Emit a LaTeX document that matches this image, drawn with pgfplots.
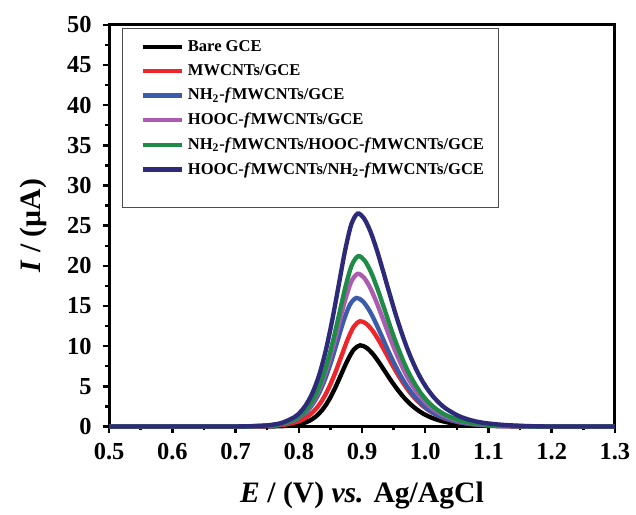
\documentclass[border=0pt]{standalone}
\usepackage{fontspec}
\setmainfont{Liberation Serif}
\usepackage{pgfplots}
\pgfplotsset{compat=1.18}

\definecolor{cBare}{RGB}{0,0,0}
\definecolor{cMW}{RGB}{236,38,42}
\definecolor{cNH}{RGB}{58,92,170}
\definecolor{cHO}{RGB}{172,92,176}
\definecolor{cNHHO}{RGB}{30,140,70}
\definecolor{cHONH}{RGB}{46,42,122}

\begin{document}
\begin{tikzpicture}
\begin{axis}[
    scale only axis,
    width=10.2cm,
    height=8.1cm,
    xmin=0.5, xmax=1.3,
    ymin=0, ymax=50,
    xtick={0.5,0.6,...,1.3},
    ytick={0,5,...,50},
    minor x tick num=1,
    minor y tick num=1,
    xtick pos=bottom,
    ytick pos=left,
    tick align=outside,
    major tick length=0.13cm,
    minor tick length=0.08cm,
    every tick/.style={black,line width=1.4pt},
    axis line style={line width=1.7pt},
    clip=false,
    /pgf/number format/assume math mode=true,
    ticklabel style={font=\bfseries\fontsize{14}{16}\selectfont},
    x tick label style={yshift=-0.08cm,/pgf/number format/.cd,fixed,fixed zerofill,precision=1},
    y tick label style={xshift=-0.1cm,/pgf/number format/.cd,fixed,precision=0},
    xlabel={\textbf{\textit{E} / (V) \textit{vs.} Ag/AgCl}},
    ylabel={\textbf{\textit{I} / (µA)}},
    label style={font=\fontsize{17}{19}\selectfont},
    xlabel style={yshift=-0.2cm},
    ylabel style={yshift=0.16cm},
    legend cell align=left,
    legend style={at={(0.025,0.993)},anchor=north west,
        draw=black!70,line width=0.5pt,
        font=\bfseries\fontsize{9.5}{11}\selectfont,
        inner xsep=6pt,inner ysep=5pt,
        row sep=2pt},
    legend image code/.code={\draw[#1,line width=2.5pt] (0.2cm,0cm) -- (1.0cm,0cm);},
    every axis plot/.append style={line width=2.5pt,smooth},
]
% Bare GCE
\addplot[cBare] coordinates {(0.5,0) (0.70,0) (0.737,0.003) (0.757,0.013) (0.777,0.056) (0.797,0.213) (0.807,0.399) (0.817,0.719) (0.827,1.242) (0.837,2.050) (0.847,3.202) (0.857,4.717) (0.867,6.474) (0.877,8.221) (0.887,9.575) (0.897,10.1) (0.907,9.807) (0.917,9.040) (0.927,7.969) (0.937,6.777) (0.947,5.595) (0.957,4.505) (0.967,3.545) (0.977,2.747) (0.987,2.101) (0.997,1.586) (1.007,1.192) (1.017,0.886) (1.027,0.657) (1.037,0.484) (1.057,0.262) (1.077,0.141) (1.097,0.077) (1.127,0.031) (1.167,0) (1.3,0)};
% MWCNTs/GCE
\addplot[cMW] coordinates {(0.5,0) (0.70,0) (0.737,0.031) (0.757,0.083) (0.777,0.221) (0.797,0.575) (0.807,0.913) (0.817,1.428) (0.827,2.188) (0.837,3.262) (0.847,4.729) (0.857,6.563) (0.867,8.672) (0.877,10.781) (0.887,12.432) (0.897,13.1) (0.907,12.773) (0.917,11.895) (0.927,10.650) (0.937,9.236) (0.947,7.781) (0.957,6.419) (0.967,5.188) (0.977,4.113) (0.987,3.236) (0.997,2.502) (1.007,1.926) (1.017,1.467) (1.027,1.117) (1.037,0.846) (1.057,0.479) (1.077,0.270) (1.097,0.152) (1.127,0.066) (1.167,0) (1.3,0)};
% NH2-fMWCNTs/GCE
\addplot[cNH] coordinates {(0.5,0) (0.69,0) (0.731,0.038) (0.751,0.101) (0.771,0.270) (0.791,0.702) (0.801,1.115) (0.811,1.744) (0.821,2.672) (0.831,3.984) (0.841,5.776) (0.851,8.016) (0.861,10.592) (0.871,13.168) (0.881,15.184) (0.891,16.0) (0.901,15.600) (0.911,14.528) (0.921,13.008) (0.931,11.280) (0.941,9.504) (0.951,7.840) (0.961,6.336) (0.971,5.024) (0.981,3.952) (0.991,3.056) (1.001,2.352) (1.011,1.792) (1.021,1.365) (1.031,1.034) (1.051,0.586) (1.071,0.330) (1.091,0.186) (1.121,0.080) (1.161,0.01) (1.2,0) (1.3,0)};
% HOOC-fMWCNTs/GCE
\addplot[cHO] coordinates {(0.5,0) (0.69,0) (0.733,0.046) (0.753,0.120) (0.773,0.321) (0.793,0.834) (0.803,1.324) (0.813,2.071) (0.823,3.173) (0.833,4.731) (0.843,6.859) (0.853,9.519) (0.863,12.578) (0.873,15.637) (0.883,18.031) (0.893,19.0) (0.903,18.525) (0.913,17.252) (0.923,15.447) (0.933,13.395) (0.943,11.286) (0.953,9.310) (0.963,7.524) (0.973,5.966) (0.983,4.693) (0.993,3.629) (1.003,2.793) (1.013,2.128) (1.023,1.621) (1.033,1.227) (1.053,0.695) (1.073,0.391) (1.093,0.220) (1.123,0.095) (1.163,0.02) (1.2,0) (1.3,0)};
% NH2-fMWCNTs/HOOC-fMWCNTs/GCE
\addplot[cNHHO] coordinates {(0.5,0) (0.69,0) (0.734,0.051) (0.754,0.134) (0.774,0.358) (0.794,0.931) (0.804,1.478) (0.814,2.311) (0.824,3.540) (0.834,5.279) (0.844,7.653) (0.854,10.621) (0.864,14.034) (0.874,17.448) (0.884,20.119) (0.894,21.2) (0.904,20.670) (0.914,19.250) (0.924,17.236) (0.934,14.946) (0.944,12.593) (0.954,10.388) (0.964,8.395) (0.974,6.657) (0.984,5.236) (0.994,4.049) (1.004,3.116) (1.014,2.374) (1.024,1.808) (1.034,1.370) (1.054,0.776) (1.074,0.437) (1.094,0.246) (1.124,0.106) (1.164,0.02) (1.2,0) (1.3,0)};
% HOOC-fMWCNTs/NH2-fMWCNTs/GCE
\addplot[cHONH] coordinates {(0.5,0) (0.69,0) (0.733,0.064) (0.753,0.167) (0.773,0.448) (0.793,1.163) (0.803,1.847) (0.813,2.889) (0.823,4.426) (0.833,6.599) (0.843,9.567) (0.853,13.277) (0.863,17.543) (0.873,21.810) (0.883,25.149) (0.893,26.5) (0.903,25.917) (0.913,24.327) (0.923,22.075) (0.933,19.425) (0.943,16.695) (0.953,14.019) (0.963,11.581) (0.973,9.408) (0.983,7.553) (0.993,5.989) (1.003,4.717) (1.013,3.684) (1.023,2.862) (1.033,2.207) (1.053,1.304) (1.073,0.766) (1.093,0.448) (1.123,0.201) (1.163,0.05) (1.2,0) (1.3,0)};
\addlegendentry{Bare GCE}
\addlegendentry{MWCNTs/GCE}
\addlegendentry{NH\textsubscript{2}-\textit{f}MWCNTs/GCE}
\addlegendentry{HOOC-\textit{f}MWCNTs/GCE}
\addlegendentry{NH\textsubscript{2}-\textit{f}MWCNTs/HOOC-\textit{f}MWCNTs/GCE}
\addlegendentry{HOOC-\textit{f}MWCNTs/NH\textsubscript{2}-\textit{f}MWCNTs/GCE}
\addlegendimage{empty legend}
\addlegendentry{\rule{0pt}{0.1cm}}
\end{axis}
\path ([xshift=-2.2cm,yshift=-1.7cm]current axis.south west) rectangle ([xshift=0.32cm,yshift=0.5cm]current axis.north east);
\end{tikzpicture}
\end{document}
